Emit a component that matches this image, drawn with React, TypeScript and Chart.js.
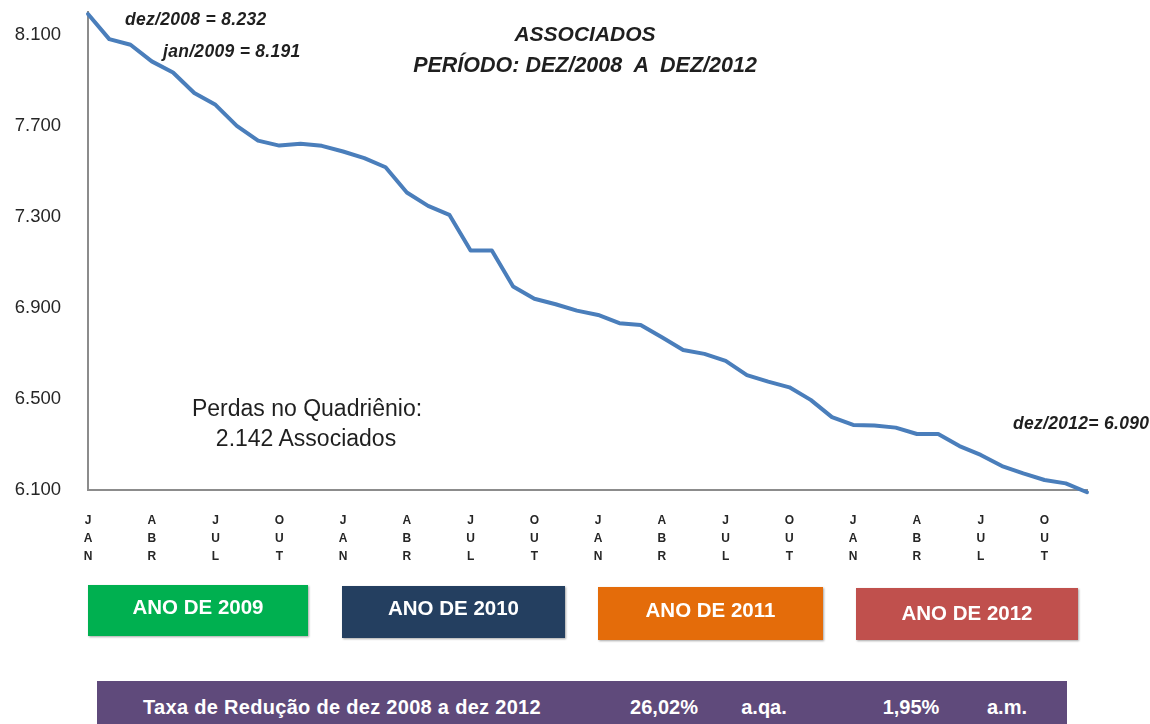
import React, { useEffect, useRef } from 'react';
import { Chart, registerables } from 'chart.js';

Chart.register(...registerables);

// ---------- DATA ----------
const monthNames = ['JAN', 'FEV', 'MAR', 'ABR', 'MAI', 'JUN', 'JUL', 'AGO', 'SET', 'OUT', 'NOV', 'DEZ'];
const years = ['2009', '2010', '2011', '2012'];
const categories = years.flatMap(() => monthNames);
const shownMonths = ['JAN', 'ABR', 'JUL', 'OUT'];

const values2009 = [8191, 8081, 8056, 7983, 7934, 7844, 7792, 7700, 7635, 7613, 7621, 7612];
const values2010 = [7587, 7558, 7518, 7407, 7348, 7309, 7152, 7152, 6994, 6940, 6916, 6888];
const values2011 = [6869, 6833, 6825, 6771, 6715, 6698, 6667, 6605, 6576, 6551, 6496, 6420];
const values2012 = [6386, 6383, 6374, 6346, 6346, 6293, 6254, 6205, 6173, 6144, 6129, 6090];
const associados = [...values2009, ...values2010, ...values2011, ...values2012];

const yTicks = [6100, 6500, 6900, 7300, 7700, 8100];
const yMin = 6100;
const yMax = 8200;

const yearBoxLabels = ['ANO DE 2009', 'ANO DE 2010', 'ANO DE 2011', 'ANO DE 2012'];
const rateTexts = ['Taxa de Redução de dez 2008 a dez 2012', '26,02%', 'a.qa.', '1,95%', 'a.m.'];

const titleLines = ['ASSOCIADOS', 'PERÍODO: DEZ/2008  A  DEZ/2012'];
const annotDez2008 = 'dez/2008 = 8.232';
const annotJan2009 = 'jan/2009 = 8.191';
const annotDez2012 = 'dez/2012= 6.090';
const perdasLines = ['Perdas no Quadriênio:', '2.142 Associados'];

// ---------- STYLES ----------
const FONT = '"Liberation Sans", Arial, sans-serif';
const boxColors = ['#00B050', '#243F60', '#E46C0A', '#C0504D'];
const boxGeom = [
  { left: 88, top: 585, width: 220, height: 51, ty: 607 },
  { left: 342, top: 586, width: 223, height: 52, ty: 608 },
  { left: 598, top: 587, width: 225, height: 53, ty: 610 },
  { left: 856, top: 588, width: 222, height: 52, ty: 613 },
];
const rateX = [342, 664, 764, 911, 1007];

function fmt(v: number): string {
  const t = Math.floor(v / 1000);
  const r = Math.round(v % 1000);
  return t + '.' + String(r).padStart(3, '0');
}

function Txt(props: { x: number; y: number; text: string; style?: React.CSSProperties; align?: 'left' | 'center' }) {
  const { x, y, text, style, align = 'center' } = props;
  return (
    <div
      style={{
        position: 'absolute',
        left: x,
        top: y,
        transform: align === 'center' ? 'translate(-50%, -50%)' : 'translate(0, -50%)',
        whiteSpace: 'pre',
        lineHeight: 1,
        fontFamily: FONT,
        color: '#1f1f1f',
        ...style,
      }}
    >
      {text}
    </div>
  );
}

const annotStyle: React.CSSProperties = { fontSize: 17.5, fontWeight: 'bold', fontStyle: 'italic', letterSpacing: 0.3 };

export default function App() {
  const canvasRef = useRef<HTMLCanvasElement | null>(null);

  useEffect(() => {
    const canvas = canvasRef.current;
    if (!canvas) return;
    const chart = new Chart(canvas, {
      type: 'line',
      data: {
        labels: categories,
        datasets: [
          {
            label: 'Associados',
            data: associados,
            borderColor: '#4A7EBB',
            borderWidth: 4,
            pointRadius: 0,
            tension: 0,
            fill: false,
            borderJoinStyle: 'round',
            borderCapStyle: 'round',
            clip: 6,
          } as any,
        ],
      },
      options: {
        responsive: false,
        animation: false,
        devicePixelRatio: 1,
        layout: { padding: { top: 12, right: 63, left: 0, bottom: 0 } },
        plugins: {
          legend: { display: false },
          title: { display: false },
          tooltip: { enabled: false },
        },
        scales: {
          x: {
            type: 'category',
            offset: false,
            grid: { display: false, drawTicks: false },
            border: { display: true, color: '#8C8C8C', width: 2 },
            ticks: {
              autoSkip: false,
              maxRotation: 0,
              minRotation: 0,
              padding: 22,
              color: '#262626',
              font: { family: FONT, size: 12, weight: 'bold', lineHeight: 1.5 },
              callback: (_v: any, index: number) => {
                const m = categories[index];
                return shownMonths.includes(m) ? m.split('') : '';
              },
            },
            afterFit: (scale: any) => {
              scale.height = 234;
              scale.paddingLeft = 0;
              scale.paddingRight = 0;
            },
          },
          y: {
            type: 'linear',
            min: yMin,
            max: yMax,
            grid: { display: false, drawTicks: false },
            border: { display: true, color: '#8C8C8C', width: 2 },
            afterBuildTicks: (axis: any) => {
              axis.ticks = yTicks.map((v) => ({ value: v }));
            },
            ticks: {
              padding: 27,
              color: '#262626',
              font: { family: FONT, size: 18.5 },
              callback: (v: any) => fmt(Number(v)),
            },
            afterFit: (scale: any) => {
              scale.width = 88;
              scale.paddingTop = 0;
              scale.paddingBottom = 0;
            },
          },
        },
      } as any,
    });
    return () => chart.destroy();
  }, []);

  return (
    <div
      style={{
        position: 'absolute',
        left: 0,
        top: 0,
        width: 1150,
        height: 724,
        overflow: 'hidden',
        background: '#ffffff',
      }}
    >
      <canvas ref={canvasRef} width={1150} height={724} style={{ position: 'absolute', left: 0, top: 0 }} />

      <Txt x={585} y={33} text={titleLines[0]} style={{ fontSize: 21, fontWeight: 'bold', fontStyle: 'italic' }} />
      <Txt x={585} y={66} text={titleLines[1]} style={{ fontSize: 21.5, fontWeight: 'bold', fontStyle: 'italic' }} />

      <Txt x={125} y={20} align="left" text={annotDez2008} style={annotStyle} />
      <Txt x={163} y={52} align="left" text={annotJan2009} style={annotStyle} />
      <Txt x={1013} y={424} align="left" text={annotDez2012} style={annotStyle} />

      <Txt x={307} y={408} text={perdasLines[0]} style={{ fontSize: 23 }} />
      <Txt x={306} y={438} text={perdasLines[1]} style={{ fontSize: 23 }} />

      {yearBoxLabels.map((label, i) => {
        const g = boxGeom[i];
        return (
          <div
            key={label}
            style={{
              position: 'absolute',
              left: g.left,
              top: g.top,
              width: g.width,
              height: g.height,
              background: boxColors[i],
              boxShadow: '1px 1px 2px rgba(0,0,0,0.35)',
            }}
          />
        );
      })}
      {yearBoxLabels.map((label, i) => {
        const g = boxGeom[i];
        return (
          <Txt
            key={'t' + label}
            x={g.left + g.width / 2}
            y={g.ty}
            text={label}
            style={{ fontSize: 20.5, fontWeight: 'bold', color: '#ffffff' }}
          />
        );
      })}

      <div
        style={{
          position: 'absolute',
          left: 97,
          top: 681,
          width: 970,
          height: 50,
          background: '#5F4A7B',
        }}
      />
      {rateTexts.map((t, i) => (
        <Txt
          key={'r' + i}
          x={rateX[i]}
          y={707}
          text={t}
          style={{ fontSize: 20, fontWeight: 'bold', color: '#ffffff', letterSpacing: i === 0 ? 0.3 : 0 }}
        />
      ))}
    </div>
  );
}
